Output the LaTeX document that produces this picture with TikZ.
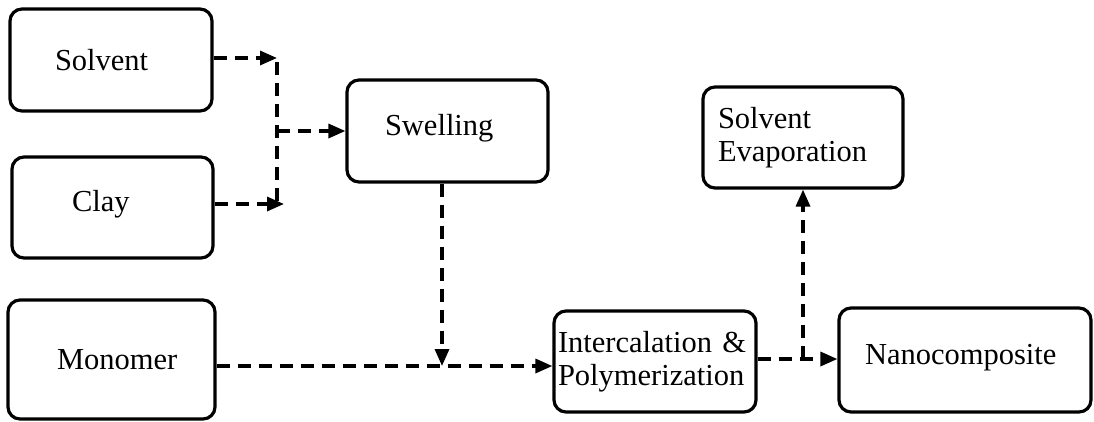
\documentclass[tikz,border=0pt]{standalone}
\usepackage{fontspec}
\setmainfont{Liberation Serif}
\usetikzlibrary{arrows.meta}
\tikzset{
  box/.style={draw, line width=3.2pt, rounded corners=12pt, align=left, inner ysep=0pt,
    font=\fontsize{30.5}{33}\selectfont},
  conn/.style={line width=3.3pt, dash pattern=on 13pt off 8pt},
  arr/.style={conn, -{Triangle[length=17pt,width=14pt]}}
}
\begin{document}
\begin{tikzpicture}[x=1pt,y=-1pt]
\useasboundingbox (0,0) rectangle (1094,421);
\node[box, minimum width=202pt, minimum height=102pt, inner xsep=45pt, text width=112pt] (solvent) at (111,60) {Solvent};
\node[box, minimum width=201pt, minimum height=101pt, inner xsep=60pt, text width=81pt, text depth=14pt] (clay) at (112.5,207.5) {Clay};
\node[box, minimum width=201pt, minimum height=102pt, inner xsep=38pt, text width=125pt, text depth=13pt] (swelling) at (447.5,131) {Swelling};
\node[box, minimum width=207pt, minimum height=119pt, inner xsep=49pt, text width=109pt] (monomer) at (111.5,359.5) {Monomer};
\node[box, minimum width=200pt, minimum height=101pt, inner xsep=15pt, text width=170pt] (evap) at (803,137.5) {Solvent\\Evaporation};
\node[box, minimum width=202pt, minimum height=101pt, inner xsep=4pt, text width=194pt] (inter) at (655,361.5) {Intercalation \&\\Polymerization};
\node[box, minimum width=252pt, minimum height=104pt, inner xsep=26pt, text width=200pt, text depth=11pt] (nano) at (965,360) {Nanocomposite};
\coordinate (jx) at (277,131);
\coordinate (clayend) at (284,204);
\coordinate (m) at (442,366);
\coordinate (e) at (803,359);
\draw[arr] (solvent.east |- 0,58) -- (jx |- 0,58);
\draw[arr] (clay.east |- clayend) -- (clayend);
\draw[conn] (jx |- 0,62) -- (jx |- clayend);
\draw[arr] (jx) -- (swelling.west);
\draw[arr] (swelling.south -| m) -- (m);
\draw[arr] (monomer.east |- m) -- (inter.west |- m);
\draw[arr] (inter.east |- e) -- (nano.west |- e);
\draw[arr] (e) -- (e |- evap.south);
\end{tikzpicture}
\end{document}
